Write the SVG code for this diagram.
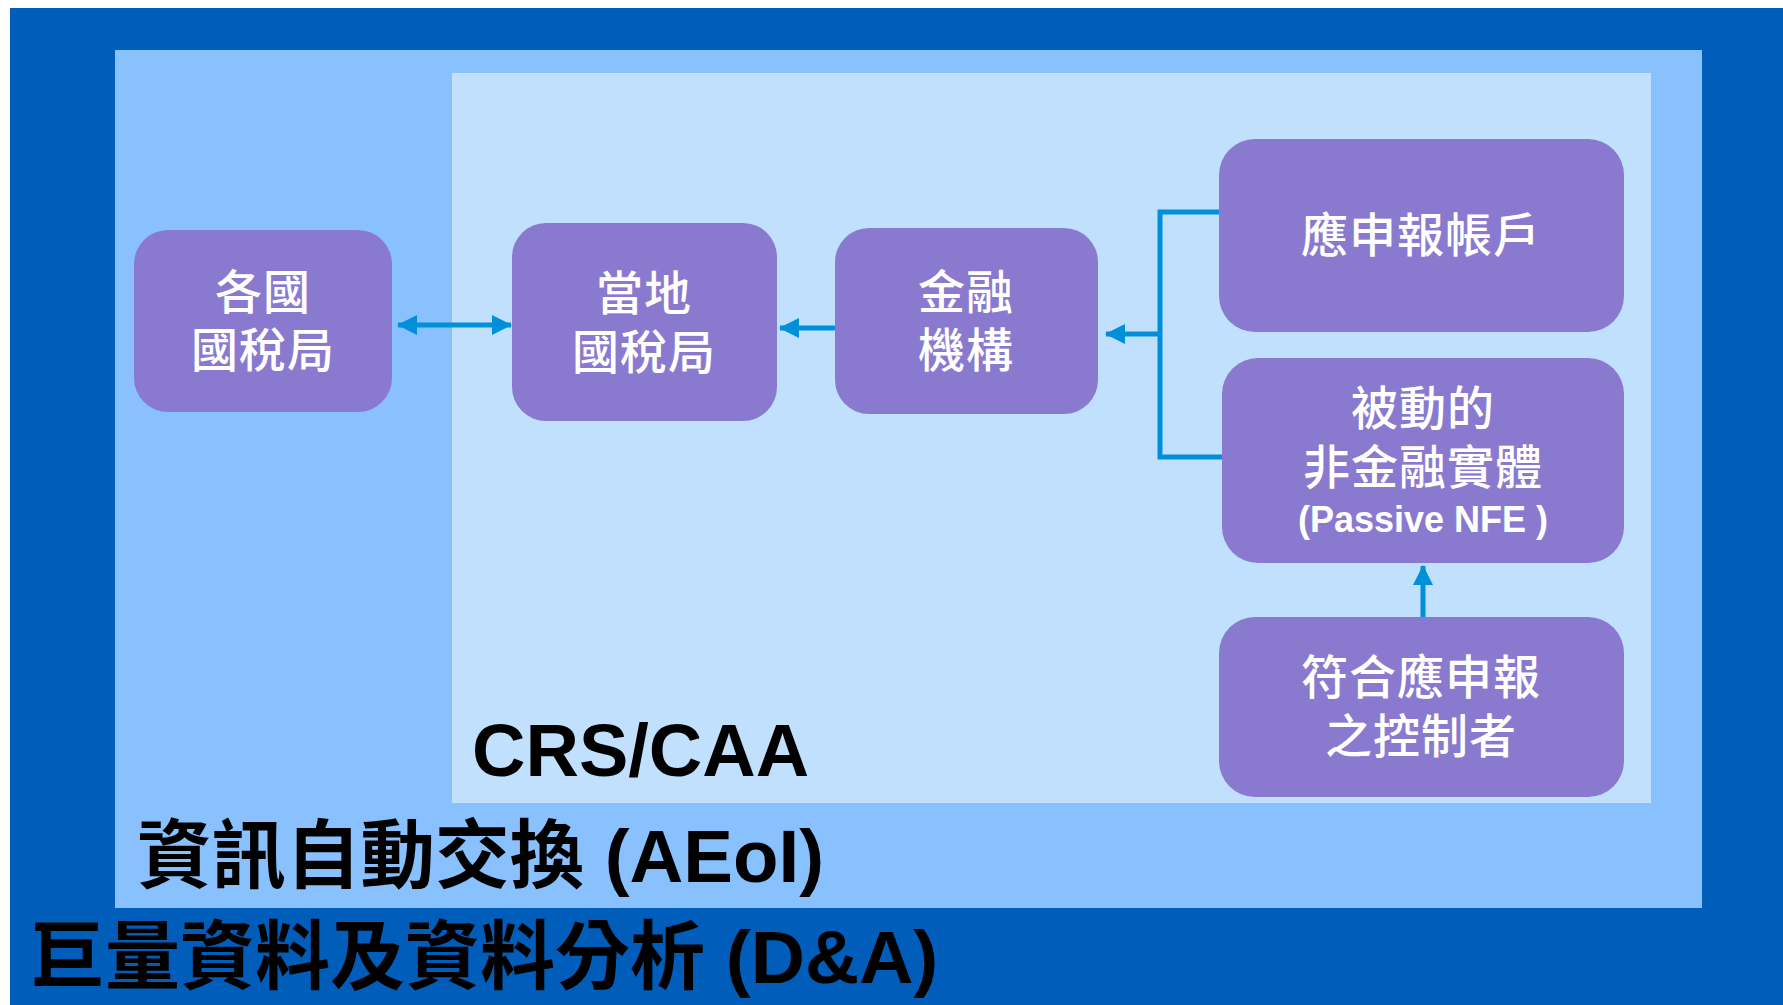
<svg xmlns="http://www.w3.org/2000/svg" width="1783" height="1005" viewBox="0 0 1783 1005">
<style>
.node{fill:#8A7ACF;}
.lbl{fill:#FFFFFF;font-family:"Noto Sans CJK TC","Noto Sans",sans-serif;font-size:47px;font-weight:500;letter-spacing:1px;text-anchor:middle;}
.lat{fill:#FFFFFF;font-family:"Liberation Sans",Arial,sans-serif;font-weight:bold;font-size:36px;text-anchor:middle;}
.big{fill:#000000;font-family:"Liberation Sans","Noto Sans CJK TC",sans-serif;font-weight:bold;}
.conn{fill:none;stroke:#0090DA;stroke-width:5;}
</style>
<defs>
<marker id="ah" viewBox="0 0 20 20" refX="19" refY="10" markerWidth="20" markerHeight="20" markerUnits="userSpaceOnUse" orient="auto-start-reverse">
<path d="M0,0 L20,10 L0,20 Z" fill="#0090DA"/>
</marker>
</defs>
<rect x="0" y="0" width="1783" height="1005" fill="#FFFFFF"/>
<g id="layer-da">
<rect x="10" y="8" width="1773" height="997" fill="#005DB9"/>
<text class="big" x="30" y="983" font-size="75">巨量資料及資料分析 (D&amp;A)</text>
</g>
<g id="layer-aeoi">
<rect x="115" y="50" width="1587" height="858" fill="#88C1FD"/>
<text class="big" x="137" y="882" font-size="74.5">資訊自動交換 (AEoI)</text>
</g>
<g id="layer-crs">
<rect x="452" y="73" width="1199" height="730" fill="#C1E0FE"/>
<text class="big" x="472" y="776" font-size="74">CRS/CAA</text>
</g>
<g id="connectors">
<path class="conn" d="M398,325 L511,325" marker-start="url(#ah)" marker-end="url(#ah)"/>
<path class="conn" d="M835,328 L780,328" marker-end="url(#ah)"/>
<path class="conn" d="M1219,212 L1160,212 L1160,457 L1222,457"/>
<path class="conn" d="M1160,334 L1106,334" marker-end="url(#ah)"/>
<path class="conn" d="M1423,617 L1423,566" marker-end="url(#ah)"/>
</g>
<g id="node-tax-authorities">
<rect class="node" x="134" y="230" width="258" height="182" rx="34" ry="34"/>
<text class="lbl" x="263" y="309">各國</text>
<text class="lbl" x="263" y="367">國稅局</text>
</g>
<g id="node-local-tax">
<rect class="node" x="512" y="223" width="265" height="198" rx="34" ry="34"/>
<text class="lbl" x="644" y="310">當地</text>
<text class="lbl" x="644" y="369">國稅局</text>
</g>
<g id="node-financial">
<rect class="node" x="835" y="228" width="263" height="186" rx="34" ry="34"/>
<text class="lbl" x="966" y="309">金融</text>
<text class="lbl" x="966" y="367">機構</text>
</g>
<g id="node-accounts">
<rect class="node" x="1219" y="139" width="405" height="193" rx="36" ry="36"/>
<text class="lbl" x="1421" y="252">應申報帳戶</text>
</g>
<g id="node-passive-nfe">
<rect class="node" x="1222" y="358" width="402" height="205" rx="36" ry="36"/>
<text class="lbl" x="1423" y="425">被動的</text>
<text class="lbl" x="1423" y="484">非金融實體</text>
<text class="lat" x="1423" y="532">(Passive NFE )</text>
</g>
<g id="node-controllers">
<rect class="node" x="1219" y="617" width="405" height="180" rx="36" ry="36"/>
<text class="lbl" x="1421" y="694">符合應申報</text>
<text class="lbl" x="1421" y="753">之控制者</text>
</g>
</svg>
